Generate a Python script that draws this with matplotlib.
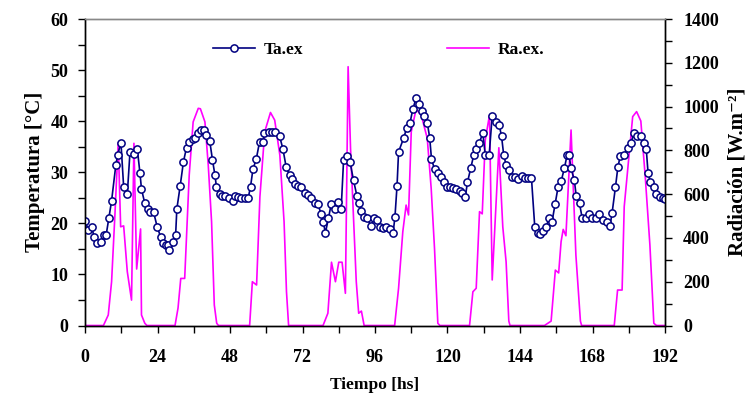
import matplotlib
matplotlib.use("Agg")
import matplotlib.pyplot as plt
from matplotlib.ticker import MultipleLocator

# ---- data ----
t_temp = [0, 1.1, 2.2, 3.0, 3.9, 5.2, 6.3, 7.0, 7.9, 8.8, 10.2, 10.8, 11.9, 12.8, 14.0,
          14.9, 16.2, 17.3, 18.2, 18.7, 19.8, 20.9, 21.6, 22.7, 23.9, 25.0, 25.8, 26.7,
          27.4, 27.9, 29.0, 30.0, 30.4, 31.5, 32.6, 33.6, 34.5, 35.6, 36.5, 37.3, 38.3,
          39.4, 40.2, 41.3, 42.2, 43.0, 43.5, 44.6, 45.5, 46.5, 47.6, 49.0, 49.8, 50.7,
          51.8, 52.9, 54.0, 54.8, 55.6, 56.7, 57.8, 58.9, 59.4, 60.8, 61.9, 63.0, 64.4,
          65.5, 66.6, 67.7, 68.6, 69.4, 70.5, 71.6, 72.7, 73.8, 74.9, 76.0, 77.1, 78.2,
          78.8, 79.6, 80.6, 81.5, 82.6, 83.9, 84.8, 85.6, 86.7, 87.7, 88.9, 90.0, 90.6,
          91.5, 92.4, 93.5, 94.6, 95.7, 96.8, 97.6, 98.7, 99.8, 101.0, 102.0, 102.6,
          103.3, 103.8, 105.5, 106.5, 107.6, 108.5, 109.6, 110.5, 111.4, 112.2, 113.3,
          114.1, 114.7, 115.7, 116.8, 117.7, 118.7, 119.8, 120.9, 121.8, 122.9, 124.0,
          124.9, 125.9, 126.6, 127.7, 128.7, 129.5, 130.5, 131.7, 132.5, 133.8, 134.8,
          136.0, 137.1, 137.9, 138.6, 139.4, 140.4, 141.3, 142.4, 143.5, 144.6, 145.7,
          146.8, 147.8, 148.9, 149.9, 150.6, 151.5, 152.6, 153.6, 154.6, 155.6, 156.6,
          157.6, 158.7, 159.6, 160.2, 160.9, 162.0, 162.6, 163.7, 164.6, 165.7, 166.8,
          167.9, 169.0, 170.1, 171.4, 172.7, 173.8, 174.5, 175.6, 176.4, 177.2, 178.5,
          179.6, 180.7, 181.8, 182.7, 184.0, 184.9, 185.8, 186.4, 187.2, 188.3, 189.1,
          190.2, 191.3, 192.0]
temp = [20.5, 18.7, 19.3, 17.4, 16.1, 16.3, 17.7, 17.7, 21.0, 24.4, 31.4, 33.4, 35.8, 27.1, 25.7,
        34.0, 33.6, 34.6, 29.8, 26.7, 23.9, 22.9, 22.2, 22.2, 19.3, 17.4, 16.1, 15.8,
        15.8, 14.8, 16.3, 17.7, 22.8, 27.3, 32.1, 34.8, 35.9, 36.6, 36.8, 37.6, 38.3,
        38.3, 37.3, 36.1, 32.4, 29.5, 27.2, 25.7, 25.4, 25.3, 24.9, 24.4, 25.3, 25.1,
        24.9, 24.9, 24.9, 27.2, 30.6, 32.6, 36.0, 36.0, 37.6, 37.8, 37.8, 37.8, 37.1,
        34.6, 31.0, 29.5, 28.6, 27.7, 27.3, 27.2, 25.9, 25.6, 24.9, 24.0, 23.7, 21.8,
        20.3, 18.2, 21.0, 23.8, 22.8, 24.2, 22.8, 32.4, 33.2, 32.1, 28.4, 25.4, 23.9,
        22.5, 21.3, 21.0, 19.5, 21.0, 20.6, 19.2, 19.1, 19.3, 18.8, 18.2, 21.2,
        27.4, 34.0, 36.7, 38.7, 39.7, 42.3, 44.5, 43.3, 42.0, 41.1, 39.7,
        36.8, 32.6, 30.6, 29.9, 29.0, 28.0, 27.1, 27.2, 26.9, 26.8, 26.4,
        25.9, 25.2, 28.0, 30.8, 33.4, 34.5, 35.8, 37.6, 33.4, 33.4, 41.1,
        39.9, 39.3, 37.0, 33.4, 31.4, 30.5, 29.1, 29.0, 28.7, 29.3, 28.8,
        28.8, 28.8, 19.2, 18.2, 18.0, 18.5, 19.2, 21.0, 20.3, 23.7, 27.1,
        28.2, 30.8, 33.4, 33.4, 30.8, 28.4, 25.4, 23.9, 21.0, 21.0, 21.8,
        21.0, 21.0, 21.8, 20.7, 20.3, 19.5, 22.1, 27.1, 31.0, 33.2, 33.4,
        34.8, 35.8, 37.7, 37.0, 37.0, 35.8, 34.5, 29.8, 28.0, 27.1, 25.7,
        25.2, 24.9, 24.8]

t_rad = [0, 6.1, 7.7, 8.8, 9.9, 11.0, 11.8, 12.8, 14.0, 15.4, 16.2, 17.1, 18.4, 18.7, 19.8,
         20.5, 29.8, 30.8, 31.7, 33.0, 34.5, 35.8, 37.5, 38.2, 39.7, 40.8, 41.9, 42.8,
         43.6, 44.2, 54.5, 55.4, 56.8, 57.9, 59.5, 61.4, 62.8, 64.5, 65.9, 66.7, 67.4,
         78.8, 80.4, 81.6, 82.9, 84.0, 85.1, 86.2, 87.1, 87.9, 89.8, 90.6, 91.5, 92.4,
         102.5, 103.8, 105.2, 106.3, 107.1, 108.0, 109.6, 111.3, 113.3, 114.6, 115.7,
         116.8, 117.5, 127.3, 128.4, 129.5, 130.6, 131.5, 132.5, 133.9, 134.8, 137.0,
         138.3, 139.4, 140.3, 140.7, 152.1, 154.3, 155.7, 156.8, 157.6, 158.3, 159.2,
         160.9, 162.5, 164.0, 164.4, 175.2, 176.3, 177.8, 178.5, 181.3, 182.6, 184.0,
         185.5, 187.0, 188.3, 189.2, 192.0]
rad = [0, 0, 48, 200, 505, 835, 451, 455, 246, 116, 832, 258, 441, 48, 10,
       0, 0, 80, 215, 215, 687, 930, 992, 990, 930, 733, 474, 94,
       10, 0, 0, 200, 185, 588, 885, 973, 938, 778, 474, 154, 0,
       0, 56, 289, 200, 289, 289, 147, 1182, 809, 200, 56, 66, 0,
       0, 170, 428, 550, 505, 885, 988, 961, 855, 626, 352,
       10, 0, 0, 154, 170, 520, 510, 847, 961, 208, 812,
       451, 291, 20, 0, 0, 20, 253, 240, 383, 439, 410,
       893, 322, 20, 0, 0, 162, 162, 543, 954, 977, 934,
       672, 368, 10, 0, 0]

x_ticks = [0, 24, 48, 72, 96, 120, 144, 168, 192]
temp_ticks = [0, 10, 20, 30, 40, 50, 60]
rad_ticks = [0, 200, 400, 600, 800, 1000, 1200, 1400]

# ---- plot ----
SERIF = ['Liberation Serif', 'DejaVu Serif']
plt.rcParams['font.family'] = SERIF
plt.rcParams['font.weight'] = 'bold'

fig = plt.figure(figsize=(7.5, 4.01), dpi=100)
ax = fig.add_axes([85/750, 1-325.5/401, 580/750, 306.5/401])
ax2 = ax.twinx()

ax2.plot(t_rad, rad, color='#FF00FF', lw=1.2, label='Ra.ex.')
ax.plot(t_temp, temp, color='#000080', lw=1.2, marker='o', ms=5.2,
        mfc='white', mec='#000080', mew=1.1, label='Ta.ex')

ax.set_zorder(ax2.get_zorder() + 1)
ax.patch.set_visible(False)

ax.set_xlim(0, 192)
ax.set_ylim(0, 60)
ax2.set_ylim(0, 1400)
ax.set_xticks(x_ticks)
ax.xaxis.set_minor_locator(MultipleLocator(12))
ax.set_yticks(temp_ticks)
ax.yaxis.set_minor_locator(MultipleLocator(5))
ax2.set_yticks(rad_ticks)
ax2.yaxis.set_minor_locator(MultipleLocator(100))

for a in (ax, ax2):
    for s in a.spines.values():
        s.set_linewidth(1.0)
    a.spines['top'].set_color('#888888')

ax.tick_params(axis='x', which='both', direction='out', length=5, width=1, pad=12, labelsize=13)
ax.tick_params(axis='y', which='both', direction='out', length=5, width=1, pad=7, labelsize=13)
ax2.tick_params(axis='y', which='both', direction='out', length=5, width=1, pad=8, labelsize=13)
for lbl in ax.get_xticklabels() + ax.get_yticklabels() + ax2.get_yticklabels():
    lbl.set_fontweight('bold')

ax.set_xlabel('Tiempo [hs]', fontsize=12.5, fontweight='bold', labelpad=8)
ax.set_ylabel('Temperatura [°C]', fontsize=15, fontweight='bold', labelpad=4)
ax2.set_ylabel('Radiación [W.m⁻²]', fontsize=15, fontweight='bold', labelpad=6)

h1, l1 = ax.get_legend_handles_labels()
h2, l2 = ax2.get_legend_handles_labels()
ax.legend(h1 + h2, l1 + l2, loc='center left', ncol=2, frameon=False,
          bbox_to_anchor=((213 - 85) / 580, (325.5 - 50) / 306.5),
          borderpad=0, borderaxespad=0, handlelength=2.4, handletextpad=0.5,
          columnspacing=8.3, prop={'family': SERIF, 'weight': 'bold', 'size': 12.5})

fig.savefig('out.png', dpi=100)
